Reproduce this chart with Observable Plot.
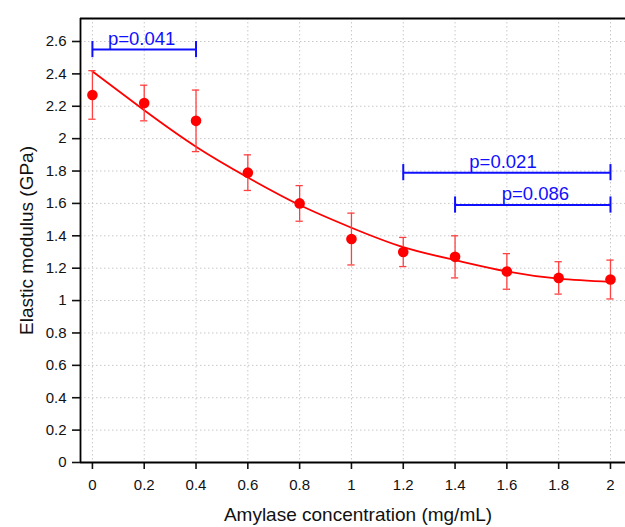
<!DOCTYPE html>
<html>
<head>
<meta charset="utf-8">
<script src="https://cdn.jsdelivr.net/npm/d3@7"></script>
<script src="https://cdn.jsdelivr.net/npm/@observablehq/plot@0.6"></script>
<style>
  html, body { margin: 0; padding: 0; background: #fff; }
  svg { display: block; }
</style>
</head>
<body>
<div id="chart"></div>
<script>
// ---- data ----
const concentration = [0, 0.2, 0.4, 0.6, 0.8, 1.0, 1.2, 1.4, 1.6, 1.8, 2.0];
const modulusMean   = [2.27, 2.22, 2.11, 1.79, 1.60, 1.38, 1.30, 1.27, 1.18, 1.14, 1.13];
const modulusErr    = [0.15, 0.11, 0.19, 0.11, 0.11, 0.16, 0.09, 0.13, 0.11, 0.10, 0.12];
const fitValues     = [2.415, 2.175, 1.95, 1.76, 1.59, 1.45, 1.33, 1.25, 1.18, 1.135, 1.115];

const bracketFrom  = [0, 1.2, 1.4];
const bracketTo    = [0.4, 2.0, 2.0];
const bracketY     = [2.55, 1.79, 1.59];
const bracketLabel = ["p=0.041", "p=0.021", "p=0.086"];
const bracketTextX = [0.19, 1.585, 1.71];

const xTicks = [0, 0.2, 0.4, 0.6, 0.8, 1.0, 1.2, 1.4, 1.6, 1.8, 2.0];
const yTicks = [0, 0.2, 0.4, 0.6, 0.8, 1.0, 1.2, 1.4, 1.6, 1.8, 2.0, 2.2, 2.4, 2.6];
const xDomain = [-0.046, 2.058];
const yDomain = [0, 2.742];
const xTitle = "Amylase concentration (mg/mL)";
const yTitle = "Elastic modulus (GPa)";

// ---- tables built from the arrays ----
const points = concentration.map((x, i) => ({x, y: modulusMean[i], e: modulusErr[i]}));
const fit = concentration.map((x, i) => ({x, y: fitValues[i]}));
const brackets = bracketLabel.map((label, i) => ({
  x1: bracketFrom[i], x2: bracketTo[i], y: bracketY[i], label, tx: bracketTextX[i]
}));
const bracketEnds = brackets.flatMap(b => [{x: b.x1, y: b.y}, {x: b.x2, y: b.y}]);

const RED = "#ff0000";
const ERR = "#ff4040";
const BLUE = "#1010ff";
const fmt = d => String(+d.toFixed(1));
const capHalf = 0.014;   // half-width of error caps (data units of x)
const bracketCap = 0.05; // half-height of bracket caps (data units of y)

const chart = Plot.plot({
  width: 625,
  height: 527,
  marginLeft: 80,
  marginRight: 0,
  marginTop: 18,
  marginBottom: 65,
  style: {fontFamily: "'Liberation Sans', Arial, sans-serif", background: "#fff", overflow: "visible"},
  x: {domain: xDomain},
  y: {domain: yDomain},
  marks: [
    // grid
    Plot.ruleX(xTicks, {stroke: "#c8c8c8", strokeWidth: 1, strokeDasharray: "1.5,2.5"}),
    Plot.ruleY(yTicks.filter(d => d > 0), {stroke: "#c8c8c8", strokeWidth: 1, strokeDasharray: "1.5,2.5"}),
    // axes
    Plot.axisX({ticks: xTicks, tickFormat: fmt, tickSize: 7, tickPadding: 10, fontSize: 15,
                strokeWidth: 1.6, label: null, color: "#111"}),
    Plot.axisY({ticks: yTicks, tickFormat: fmt, tickSize: 8, tickPadding: 6, fontSize: 15,
                strokeWidth: 1.6, label: null, color: "#111"}),
    // frame lines (left, bottom, top)
    Plot.ruleX([xDomain[0]], {stroke: "#000", strokeWidth: 1.8}),
    Plot.ruleY([yDomain[0]], {stroke: "#000", strokeWidth: 1.8}),
    Plot.ruleY([yDomain[1]], {stroke: "#000", strokeWidth: 1.8}),
    // fitted curve
    Plot.line(fit, {x: "x", y: "y", stroke: RED, strokeWidth: 1.8, curve: "natural"}),
    // error bars
    Plot.ruleX(points, {x: "x", y1: d => d.y - d.e, y2: d => d.y + d.e, stroke: ERR, strokeWidth: 1.3}),
    Plot.ruleY(points, {y: d => d.y + d.e, x1: d => d.x - capHalf, x2: d => d.x + capHalf, stroke: ERR, strokeWidth: 1.3}),
    Plot.ruleY(points, {y: d => d.y - d.e, x1: d => d.x - capHalf, x2: d => d.x + capHalf, stroke: ERR, strokeWidth: 1.3}),
    // points
    Plot.dot(points, {x: "x", y: "y", r: 5.3, fill: RED, stroke: "none"}),
    // significance brackets
    Plot.ruleY(brackets, {y: "y", x1: "x1", x2: "x2", stroke: BLUE, strokeWidth: 2}),
    Plot.ruleX(bracketEnds, {x: "x", y1: d => d.y - bracketCap, y2: d => d.y + bracketCap, stroke: BLUE, strokeWidth: 2}),
    Plot.text(brackets, {x: "tx", y: "y", text: "label", fill: BLUE, fontSize: 18.5,
                         lineAnchor: "bottom", dy: -5}),
    // axis titles
    Plot.text([yTitle], {frameAnchor: "left", dx: -54, rotate: -90, textAnchor: "middle",
                         lineAnchor: "middle", fontSize: 19, fill: "#111"}),
    Plot.text([xTitle], {frameAnchor: "bottom", dy: 58, dx: 5, textAnchor: "middle",
                         lineAnchor: "bottom", fontSize: 19, fill: "#111"})
  ]
});
document.getElementById("chart").appendChild(chart);
</script>
</body>
</html>
